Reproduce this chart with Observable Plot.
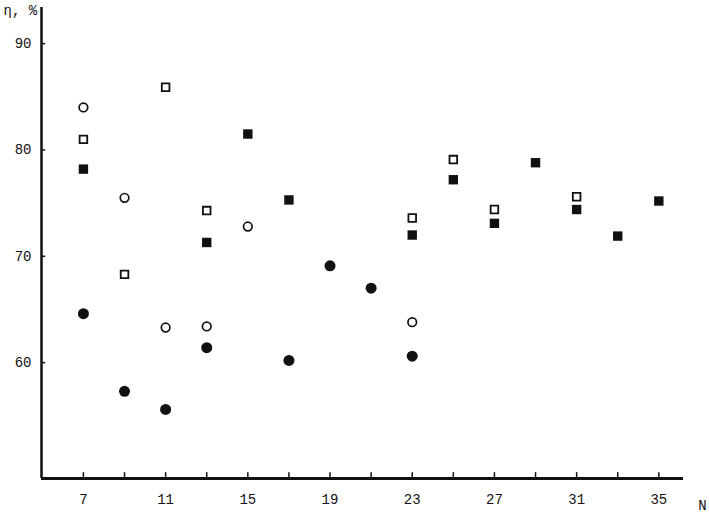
<!DOCTYPE html>
<html><head><meta charset="utf-8">
<script src="https://cdn.jsdelivr.net/npm/d3@7"></script>
<script src="https://cdn.jsdelivr.net/npm/@observablehq/plot@0.6"></script>
<style>body{margin:0;background:#fff}</style>
</head><body><div id="chart"></div>
<script>
// Tick positions and labels
const xTickValues = [7, 9, 11, 13, 15, 17, 19, 21, 23, 25, 27, 29, 31, 33, 35];
const xTickLabels = [7, 11, 15, 19, 23, 27, 31, 35];
const yTickValues = [60, 70, 80, 90];
const yAxisTitle = "η, %";
const xAxisTitle = "N";

// Series: open circles
const openCircleN   = [7, 9, 11, 13, 15, 23];
const openCircleEta = [84.0, 75.5, 63.3, 63.4, 72.8, 63.8];
// Series: filled circles
const filledCircleN   = [7, 9, 11, 13, 17, 19, 21, 23];
const filledCircleEta = [64.6, 57.3, 55.6, 61.4, 60.2, 69.1, 67.0, 60.6];
// Series: open squares
const openSquareN   = [7, 9, 11, 13, 23, 25, 27, 31];
const openSquareEta = [81.0, 68.3, 85.9, 74.3, 73.6, 79.1, 74.4, 75.6];
// Series: filled squares
const filledSquareN   = [7, 13, 15, 17, 23, 25, 27, 29, 31, 33, 35];
const filledSquareEta = [78.2, 71.3, 81.5, 75.3, 72.0, 77.2, 73.1, 78.8, 74.4, 71.9, 75.2];

const toRows = (ns, etas) => ns.map((n, i) => ({N: n, eta: etas[i]}));
const openCircles = toRows(openCircleN, openCircleEta);
const filledCircles = toRows(filledCircleN, filledCircleEta);
const openSquares = toRows(openSquareN, openSquareEta);
const filledSquares = toRows(filledSquareN, filledSquareEta);

const xDomain = [4.96, 36.2];
const yDomain = [49.1, 93.4];
const ink = "#111";

const chart = Plot.plot({
  width: 709,
  height: 516,
  marginLeft: 41,
  marginRight: 26,
  marginTop: 7,
  marginBottom: 38,
  style: {fontFamily: "'Liberation Mono', 'DejaVu Sans Mono', monospace", fontSize: "14px", color: ink, background: "#fff"},
  x: {domain: xDomain},
  y: {domain: yDomain},
  marks: [
    // small inward tick marks
    Plot.ruleX(xTickValues, {x: d => d, y1: yDomain[0], y2: yDomain[0] + 0.55, stroke: ink, strokeWidth: 1.5}),
    Plot.ruleY(yTickValues, {y: d => d, x1: xDomain[0], x2: xDomain[0] + 0.2, stroke: ink, strokeWidth: 1.5}),
    // axis lines
    Plot.ruleX([xDomain[0]], {stroke: ink, strokeWidth: 2.5}),
    Plot.ruleY([yDomain[0]], {stroke: ink, strokeWidth: 3}),
    Plot.axisY({ticks: yTickValues, tickSize: 0, tickPadding: 10, label: null}),
    Plot.axisX({ticks: xTickLabels, tickSize: 0, tickPadding: 16, label: null}),
    Plot.text([yAxisTitle], {text: d => d, frameAnchor: "top-left", dx: -38, dy: 3, textAnchor: "start", lineAnchor: "middle", fill: ink}),
    Plot.text([xAxisTitle], {text: d => d, frameAnchor: "bottom-right", dx: 19, dy: 27, textAnchor: "middle", lineAnchor: "middle", fill: ink}),
    Plot.dot(filledSquares, {x: "N", y: "eta", symbol: "square", r: 5.3, fill: ink, stroke: "none"}),
    Plot.dot(openSquares, {x: "N", y: "eta", symbol: "square", r: 4.3, fill: "#fff", stroke: ink, strokeWidth: 1.8}),
    Plot.dot(filledCircles, {x: "N", y: "eta", symbol: "circle", r: 5.5, fill: ink, stroke: "none"}),
    Plot.dot(openCircles, {x: "N", y: "eta", symbol: "circle", r: 4.3, fill: "#fff", stroke: ink, strokeWidth: 1.7})
  ]
});
document.getElementById("chart").appendChild(chart);
</script>
</body></html>
